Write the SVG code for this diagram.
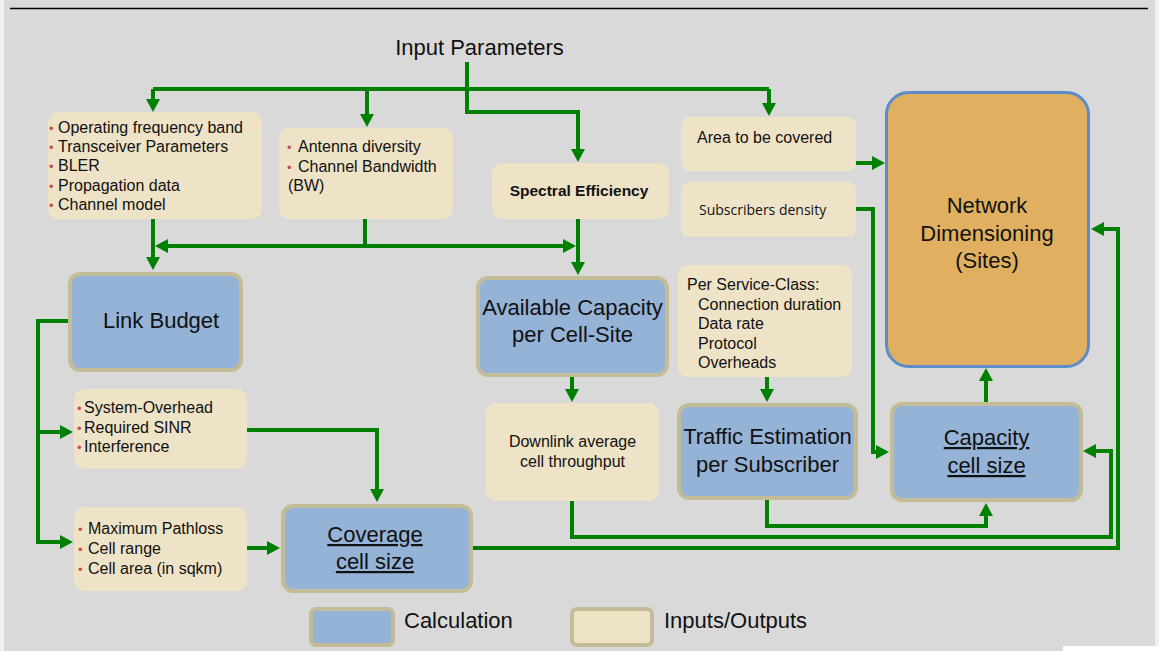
<svg xmlns="http://www.w3.org/2000/svg" width="1159" height="651" viewBox="0 0 1159 651">
<defs>
<style>
text{font-family:"Liberation Sans",Arial,sans-serif;fill:#111;}
.s16{font-size:16px;}
.s22{font-size:22px;}
.mid{text-anchor:middle;}
.b{fill:#c0504d;font-size:13px;}
.calc{fill:#95b3d7;stroke:#c4bc96;stroke-width:4;}
.io{fill:#eee3c7;}
.ul{text-decoration:underline;}
.conn path{fill:none;stroke:#008000;stroke-width:4;stroke-linejoin:miter;marker-end:url(#ah);}
.conn path.plain{marker-end:none;}
</style>
<marker id="ah" markerUnits="userSpaceOnUse" markerWidth="14" markerHeight="14" refX="9" refY="7" orient="auto">
<path d="M0,0 L13,7 L0,14 z" fill="#008000"/>
</marker>
</defs>
<rect x="0" y="0" width="1159" height="651" fill="#efefef"/>
<rect x="4" y="0" width="1151" height="651" fill="#d9d9d9"/>
<line x1="10" y1="8.5" x2="1148" y2="8.5" stroke="#000" stroke-width="1.5"/>
<rect x="1063" y="646" width="96" height="5" fill="#ffffff"/>

<g id="input-parameters">
<text class="s22 mid" x="479.5" y="55">Input Parameters</text>
</g>

<g class="conn" id="connectors">
<path d="M467,62 V112 H578 V158"/>
<path class="plain" d="M153,89 H769"/>
<path d="M153,89 V108"/>
<path d="M367,89 V123"/>
<path d="M769,89 V112"/>
<path d="M153,219 V266"/>
<path class="plain" d="M365,219 V246"/>
<path d="M365,246 H159"/>
<path d="M365,246 H572"/>
<path d="M578,219 V271"/>
<path d="M572,377 V398"/>
<path d="M767,377 V398"/>
<path d="M68,321 H38 V542 H69"/>
<path d="M38,432 H69"/>
<path d="M247,430 H377 V498"/>
<path d="M247,548 H276"/>
<path d="M473,548 H1118 V229 H1095"/>
<path d="M572,501 V537 H1111 V451 H1087"/>
<path d="M767,500 V526 H986 V507"/>
<path d="M986,402 V372"/>
<path d="M856,163 H881"/>
<path d="M856,209 H873 V452 H885"/>
</g>

<g id="node-radio-params">
<rect class="io" x="48" y="112" width="214" height="107" rx="10"/>
<text class="s16" x="49" y="133"><tspan class="b">•</tspan><tspan x="58">Operating frequency band</tspan></text>
<text class="s16" x="49" y="152"><tspan class="b">•</tspan><tspan x="58">Transceiver Parameters</tspan></text>
<text class="s16" x="49" y="171"><tspan class="b">•</tspan><tspan x="58">BLER</tspan></text>
<text class="s16" x="49" y="191"><tspan class="b">•</tspan><tspan x="58">Propagation data</tspan></text>
<text class="s16" x="49" y="210"><tspan class="b">•</tspan><tspan x="58">Channel model</tspan></text>
</g>

<g id="node-antenna">
<rect class="io" x="279" y="128" width="174" height="91" rx="10"/>
<text class="s16" x="287" y="152"><tspan class="b">•</tspan><tspan x="298">Antenna diversity</tspan></text>
<text class="s16" x="287" y="172"><tspan class="b">•</tspan><tspan x="298">Channel Bandwidth</tspan></text>
<text class="s16" x="288" y="191">(BW)</text>
</g>

<g id="node-spectral">
<rect class="io" x="492" y="163" width="177" height="56" rx="10"/>
<text class="mid" x="579" y="196" style="font-size:15.5px;font-weight:bold">Spectral Efficiency</text>
</g>

<g id="node-area">
<rect class="io" x="681" y="117" width="175" height="54" rx="8"/>
<text class="s16" x="697" y="143">Area to be covered</text>
</g>

<g id="node-subscribers">
<rect class="io" x="681" y="182" width="175" height="55" rx="8"/>
<text x="699" y="215" style="font-family:'Open Sans','Noto Sans',sans-serif;font-size:14px">Subscribers density</text>
</g>

<g id="node-network">
<rect x="886.5" y="92.5" width="202" height="274" rx="22" fill="#e0b060" stroke="#5b8bc9" stroke-width="3"/>
<text class="s22 mid" x="987" y="213">Network</text>
<text class="s22 mid" x="987" y="241">Dimensioning</text>
<text class="s22 mid" x="987" y="268">(Sites)</text>
</g>

<g id="node-link-budget">
<rect class="calc" x="70" y="274" width="171" height="96" rx="10"/>
<text class="s22" x="103" y="328">Link Budget</text>
</g>

<g id="node-available-capacity">
<rect class="calc" x="478" y="278" width="189" height="97" rx="10"/>
<text class="s22 mid" x="572.5" y="315">Available Capacity</text>
<text class="s22 mid" x="572.5" y="342">per Cell-Site</text>
</g>

<g id="node-service-class">
<rect class="io" x="678" y="265" width="174" height="112" rx="10"/>
<text class="s16" x="687" y="290">Per Service-Class:</text>
<text class="s16" x="698" y="310">Connection duration</text>
<text class="s16" x="698" y="329">Data rate</text>
<text class="s16" x="698" y="349">Protocol</text>
<text class="s16" x="698" y="368">Overheads</text>
</g>

<g id="node-system-overhead">
<rect class="io" x="74" y="389" width="173" height="80" rx="10"/>
<text class="s16" x="77" y="413"><tspan class="b">•</tspan><tspan x="84">System-Overhead</tspan></text>
<text class="s16" x="77" y="433"><tspan class="b">•</tspan><tspan x="84">Required SINR</tspan></text>
<text class="s16" x="77" y="452"><tspan class="b">•</tspan><tspan x="84">Interference</tspan></text>
</g>

<g id="node-downlink">
<rect class="io" x="486" y="403" width="173" height="98" rx="10"/>
<text class="s16 mid" x="572.5" y="447">Downlink average</text>
<text class="s16 mid" x="572.5" y="467">cell throughput</text>
</g>

<g id="node-traffic">
<rect class="calc" x="679" y="405" width="177" height="93" rx="10"/>
<text class="s22 mid" x="767.5" y="444">Traffic Estimation</text>
<text class="s22 mid" x="767.5" y="472">per Subscriber</text>
</g>

<g id="node-capacity-cell">
<rect class="calc" x="892" y="404" width="189" height="96" rx="10"/>
<text class="s22 mid ul" x="986.5" y="445">Capacity</text>
<text class="s22 mid ul" x="986.5" y="473">cell size</text>
</g>

<g id="node-max-pathloss">
<rect class="io" x="74" y="507" width="173" height="84" rx="10"/>
<text class="s16" x="78" y="534"><tspan class="b">•</tspan><tspan x="88">Maximum  Pathloss</tspan></text>
<text class="s16" x="78" y="554"><tspan class="b">•</tspan><tspan x="88">Cell range</tspan></text>
<text class="s16" x="78" y="574"><tspan class="b">•</tspan><tspan x="88">Cell area (in sqkm)</tspan></text>
</g>

<g id="node-coverage-cell">
<rect class="calc" x="283" y="506" width="188" height="85" rx="10"/>
<text class="s22 mid ul" x="375" y="542">Coverage</text>
<text class="s22 mid ul" x="375" y="569">cell size</text>
</g>

<g id="legend">
<rect class="calc" x="311" y="609" width="82" height="36" rx="5"/>
<text class="s22" x="404" y="628">Calculation</text>
<rect class="io" x="572" y="609" width="80" height="36" rx="5" stroke="#c4bc96" stroke-width="4"/>
<text class="s22" x="664" y="628">Inputs/Outputs</text>
</g>
</svg>
